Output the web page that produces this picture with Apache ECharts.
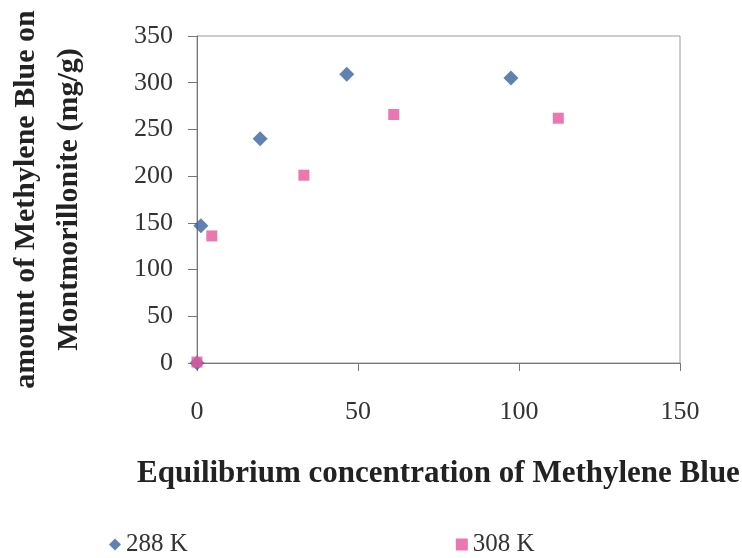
<!DOCTYPE html>
<html>
<head>
<meta charset="utf-8">
<script src="https://cdn.jsdelivr.net/npm/echarts@6/dist/echarts.min.js"></script>
<style>
  html, body { margin: 0; padding: 0; background: #fff; }
  #chart { width: 742px; height: 558px; }
</style>
</head>
<body>
<div id="chart"></div>
<script>
// readings taken off the scanned plot
const xTicks = [0, 50, 100, 150];
const yTicks = [0, 50, 100, 150, 200, 250, 300, 350];

const ce288 = [0, 1.2, 19.6, 46.5, 97.5];
const qe288 = [0, 147, 240, 309, 305];

const ce308 = [0, 4.6, 33.2, 61.1, 112.2];
const qe308 = [1, 136, 201, 266, 262];

const serif = '"Liberation Serif", "Times New Roman", serif';

function pairs(xs, ys) {
    return xs.map(function (x, i) { return [x, ys[i]]; });
}

const chart = echarts.init(document.getElementById('chart'));

const option = {
    animation: false,
    backgroundColor: '#fff',
    textStyle: { fontFamily: serif },
    grid: {
        left: 197, right: 62, top: 36, bottom: 195,
        containLabel: false, outerBoundsMode: 'none',
        show: true, borderColor: '#9a9a9a', borderWidth: 1
    },
    legend: {
        left: 104, top: 527,
        itemWidth: 12, itemHeight: 12, itemGap: 268,
        textStyle: { fontFamily: serif, fontSize: 25, color: '#333' },
        data: [
            { name: '288 K', icon: 'diamond' },
            { name: '308 K', icon: 'rect' }
        ]
    },
    xAxis: {
        type: 'value',
        min: xTicks[0], max: xTicks[xTicks.length - 1], interval: 50,
        name: 'Equilibrium concentration of Methylene Blue',
        nameLocation: 'middle', nameGap: 95,
        nameTextStyle: { fontFamily: serif, fontSize: 31, fontWeight: 'bold', color: '#222' },
        axisLine: { lineStyle: { color: '#777' } },
        axisTick: { inside: false, length: 8, lineStyle: { color: '#777' } },
        axisLabel: { margin: 36, fontSize: 26, color: '#333', fontFamily: serif },
        splitLine: { show: false }
    },
    yAxis: {
        type: 'value',
        min: yTicks[0], max: yTicks[yTicks.length - 1], interval: 50,
        name: 'amount of Methylene Blue on\nMontmorillonite (mg/g)',
        nameLocation: 'middle', nameRotate: 90, nameGap: 106,
        nameTextStyle: { fontFamily: serif, fontSize: 30, fontWeight: 'bold', color: '#222', lineHeight: 43 },
        axisLine: { lineStyle: { color: '#777' } },
        axisTick: { inside: false, length: 9, lineStyle: { color: '#777' } },
        axisLabel: { margin: 24, fontSize: 26, color: '#333', fontFamily: serif },
        splitLine: { show: false }
    },
    series: [
        {
            name: '288 K', type: 'scatter', symbol: 'diamond', symbolSize: 15,
            clip: false,
            itemStyle: { color: '#3a639c' },
            data: pairs(ce288, qe288)
        },
        {
            name: '308 K', type: 'scatter', symbol: 'rect', symbolSize: 11,
            clip: false,
            itemStyle: { color: '#e6559c' },
            data: pairs(ce308, qe308)
        }
    ]
};

chart.setOption(option);
</script>
</body>
</html>
